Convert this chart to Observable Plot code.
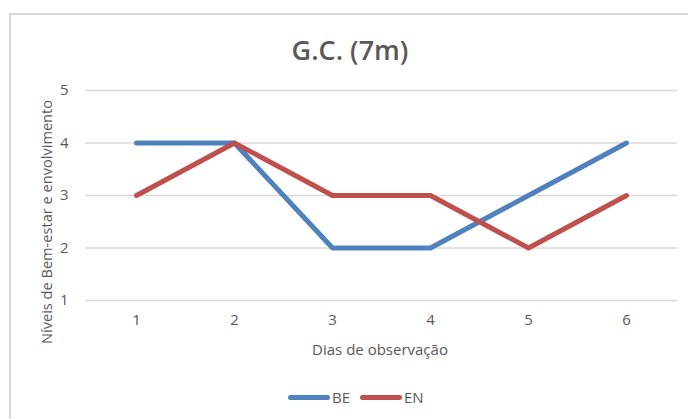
<!DOCTYPE html>
<html>
<head>
<meta charset="utf-8">
<script src="https://cdn.jsdelivr.net/npm/d3@7"></script>
<script src="https://cdn.jsdelivr.net/npm/@observablehq/plot@0.6"></script>
<style>
  html, body { margin: 0; padding: 0; background: #fff; }
  #wrap { position: relative; width: 688px; height: 419px; overflow: hidden; background: #fff; font-family: "Open Sans", sans-serif; color: #595959; }
  #frame { position: absolute; left: 9px; top: 13px; width: 700px; height: 440px; border: 2px solid #d9d9d9; box-sizing: border-box; }
  #title { position: absolute; left: 0; width: 700px; top: 31px; text-align: center; font-size: 27px; font-weight: 600; color: #595959; }
  #chart { position: absolute; left: 0; top: 0; }
  #xlabel { position: absolute; left: 280px; width: 200px; top: 339px; text-align: center; font-size: 15px; }
  #ylabel { position: absolute; left: 46px; top: 222px; transform: translate(-50%, -50%) rotate(-90deg); white-space: nowrap; font-size: 14.6px; }
  #legend { position: absolute; top: 387px; left: 288px; display: flex; align-items: center; font-size: 15px; }
  .sw { display: inline-block; width: 42px; height: 5px; border-radius: 3px; }
</style>
</head>
<body>
<div id="wrap">
  <div id="frame"></div>
  <div id="chart"></div>
  <div id="title">G.C. (7m)</div>
  <div id="xlabel">Dias de observação</div>
  <div id="ylabel">Níveis de Bem-estar e envolvimento</div>
  <div id="legend"></div>
</div>
<script>
const days = [1, 2, 3, 4, 5, 6];
const seriesNames = ["BE", "EN"];
const seriesColors = ["#4F81BD", "#C0504D"];
const beValues = [4, 4, 2, 2, 3, 4];
const enValues = [3, 4, 3, 3, 2, 3];
const yTicks = [1, 2, 3, 4, 5];

const data = [];
days.forEach((d, i) => {
  data.push({day: d, value: beValues[i], series: "BE"});
  data.push({day: d, value: enValues[i], series: "EN"});
});

const plot = Plot.plot({
  width: 688,
  height: 370,
  marginTop: 90,
  marginBottom: 70,
  marginLeft: 85,
  marginRight: 11,
  style: {fontFamily: "Open Sans, sans-serif", fontSize: "15px", color: "#595959", background: "transparent"},
  x: {type: "point", domain: days, padding: 0.5, label: null},
  y: {domain: [1, 5], label: null},
  color: {domain: seriesNames, range: seriesColors},
  marks: [
    Plot.ruleY(yTicks, {stroke: "#d9d9d9", strokeWidth: 1.3}),
    Plot.axisX({ticks: days, tickSize: 0, tickPadding: 14, label: null, fill: "#595959", fontSize: 15, tickFormat: "d"}),
    Plot.axisY({ticks: yTicks, tickSize: 0, tickPadding: 17, label: null, fill: "#595959", fontSize: 15, tickFormat: "d"}),
    Plot.line(data, {x: "day", y: "value", z: "series", stroke: "series", strokeWidth: 5, strokeLinecap: "round", strokeLinejoin: "round"})
  ]
});
document.getElementById("chart").appendChild(plot);

const legend = document.getElementById("legend");
seriesNames.forEach((name, i) => {
  const sw = document.createElement("span");
  sw.className = "sw";
  sw.style.background = seriesColors[i];
  const t = document.createElement("span");
  t.textContent = name;
  t.style.marginLeft = "2px";
  t.style.marginRight = i === 0 ? "10px" : "0";
  legend.appendChild(sw);
  legend.appendChild(t);
});
</script>
</body>
</html>
